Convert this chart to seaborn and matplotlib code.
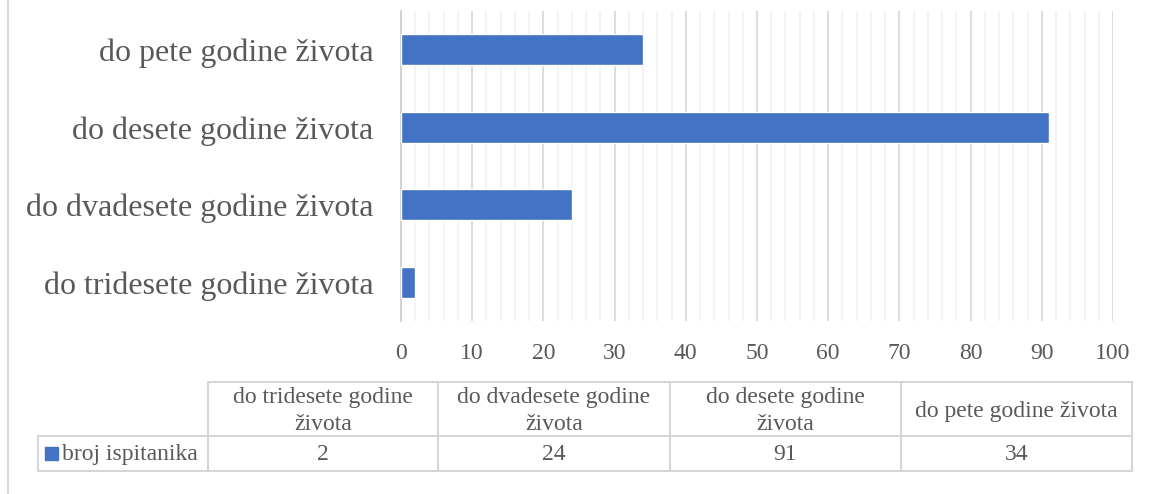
import matplotlib
matplotlib.use('Agg')
import matplotlib.pyplot as plt
import seaborn as sns
import pandas as pd
from matplotlib.lines import Line2D
from matplotlib.patches import Rectangle
from matplotlib.ticker import MultipleLocator

# data (top to bottom in the chart)
categories = ['do pete godine života', 'do desete godine života',
              'do dvadesete godine života', 'do tridesete godine života']
values = [34, 91, 24, 2]
series_name = 'broj ispitanika'
# header text for the data table (table order is reversed)
table_headers = ['do tridesete godine\nživota', 'do dvadesete godine\nživota',
                 'do desete godine\nživota', 'do pete godine života']

df = pd.DataFrame({'kategorija': categories, 'broj': values})

sns.set_style('white')
plt.rcParams['font.family'] = ['Liberation Serif', 'DejaVu Serif']

W, H = 1151, 494
fig = plt.figure(figsize=(W / 100, H / 100), dpi=100)

def fx(px):
    return px / W

def fy(py):
    return 1 - py / H

blue = '#4472C4'
txt = '#595959'
grid_major = '#d9d9d9'
grid_minor = '#f2f2f2'

ax = fig.add_axes([fx(401), fy(321), fx(1113) - fx(401), fy(11) - fy(321)])
sns.barplot(data=df, y='kategorija', x='broj', order=categories, color=blue,
            width=0.4, saturation=1, ax=ax, zorder=3)

ax.set_xlim(0, 100)
ax.xaxis.set_major_locator(MultipleLocator(10))
ax.xaxis.set_minor_locator(MultipleLocator(2))
ax.grid(axis='x', which='major', color=grid_major, lw=1.3, zorder=0)
ax.grid(axis='x', which='minor', color=grid_minor, lw=1.3, zorder=0)
ax.set_axisbelow(True)
for s in ['top', 'right', 'bottom']:
    ax.spines[s].set_visible(False)
ax.spines['left'].set_color('#d0d0d0')
ax.spines['left'].set_linewidth(1.3)
ax.set_xlabel('')
ax.set_ylabel('')
ax.tick_params(axis='x', which='both', length=0, pad=16, labelsize=17, labelcolor=txt)
ax.tick_params(axis='y', length=0, pad=20, labelsize=23, labelcolor=txt)

# outer chart border (only left edge visible)
fig.add_artist(Line2D([fx(8), fx(8)], [0, 1], color='#d9d9d9', lw=1.5))

# data table
cols = [38, 208, 438, 670, 901, 1132]
top, mid, bot = 382, 436, 471
lc = '#d6d6d6'
lw = 1.5
# horizontal lines
fig.add_artist(Line2D([fx(cols[1]), fx(cols[-1])], [fy(top), fy(top)], color=lc, lw=lw))
fig.add_artist(Line2D([fx(cols[0]), fx(cols[-1])], [fy(mid), fy(mid)], color=lc, lw=lw))
fig.add_artist(Line2D([fx(cols[0]), fx(cols[-1])], [fy(bot), fy(bot)], color=lc, lw=lw))
# vertical lines
fig.add_artist(Line2D([fx(cols[0]), fx(cols[0])], [fy(mid), fy(bot)], color=lc, lw=lw))
for c in cols[1:]:
    fig.add_artist(Line2D([fx(c), fx(c)], [fy(top), fy(bot)], color=lc, lw=lw))

for i, (hdr, v) in enumerate(zip(table_headers, values[::-1])):
    cx = (cols[i + 1] + cols[i + 2]) / 2
    fig.text(fx(cx), fy((top + mid) / 2 + 2), hdr, ha='center', va='center',
             fontsize=17, color=txt, linespacing=1.4)
    fig.text(fx(cx), fy((mid + bot) / 2 + 1), str(v), ha='center', va='center',
             fontsize=17, color=txt)

fig.add_artist(Rectangle((fx(45), fy(460)), fx(13), fy(447) - fy(460), color=blue))
fig.text(fx(62), fy((mid + bot) / 2 + 1), series_name, ha='left', va='center',
         fontsize=17, color=txt)

fig.savefig('out.png', dpi=100)
